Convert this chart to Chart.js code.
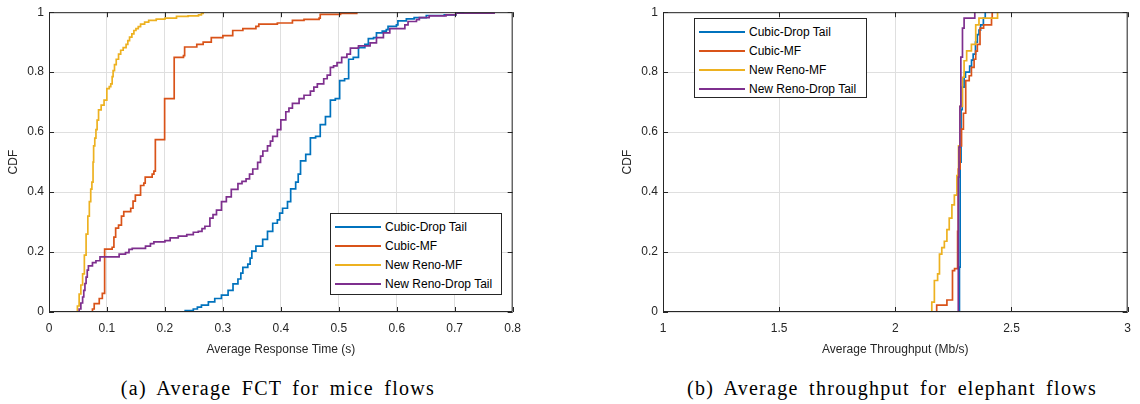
<!DOCTYPE html>
<html>
<head>
<meta charset="utf-8">
<title>CDF of flow completion time and throughput</title>
<script src="https://cdn.jsdelivr.net/npm/chart.js@4.4.1/dist/chart.umd.min.js"></script>
<style>
  body { margin: 0; background: #fff; width: 1140px; height: 404px; position: relative; overflow: hidden; font-family: "Liberation Sans", Arial, sans-serif; }
  canvas { position: absolute; top: 0; }
  #fctChart { left: 0; }
  #tputChart { left: 614px; }
  .legend { position: absolute; background: #fff; border: 1px solid #262626; box-sizing: border-box; padding-top: 3px; font-size: 12px; color: #000; }
  .legend .row { height: 19px; display: flex; align-items: center; white-space: nowrap; }
  .legend .swatch { width: 46px; height: 2px; margin: 0 4px 0 4px; }
  .caption { position: absolute; top: 376px; line-height: 24px; font-family: "Liberation Serif", serif; font-size: 20px; letter-spacing: 1.3px; word-spacing: 4px; transform: translateX(-50%); white-space: nowrap; color: #000; }
</style>
</head>
<body>
<canvas id="fctChart" width="530" height="360"></canvas>
<canvas id="tputChart" width="526" height="360"></canvas>
<div class="legend" id="fctLegend" style="left:330px; top:213px; width:172px; height:82px;"></div>
<div class="legend" id="tputLegend" style="left:694px; top:18px; width:173px; height:80px;"></div>
<div class="caption" style="left:278px;">(a) Average FCT for mice flows</div>
<div class="caption" style="left:892px;">(b) Average throughput for elephant flows</div>

<script>
'use strict';

// series order: Cubic-Drop Tail, Cubic-MF, New Reno-MF, New Reno-Drop Tail
const seriesLabels = ['Cubic-Drop Tail', 'Cubic-MF', 'New Reno-MF', 'New Reno-Drop Tail'];
const seriesColors = ['#0072BD', '#D95319', '#EDB120', '#7E2F8E'];

// tick values
const fctXTicks = [0, 0.1, 0.2, 0.3, 0.4, 0.5, 0.6, 0.7, 0.8];
const tputXTicks = [1, 1.5, 2, 2.5, 3];
const cdfTicks = [0, 0.2, 0.4, 0.6, 0.8, 1];

// mice flows: [response time (s), CDF] at each step
const fctCubicDropTail = [
  [0.232, 0], [0.235, 0.005], [0.249, 0.01], [0.256, 0.016], [0.263, 0.023], [0.275, 0.034],
  [0.286, 0.045], [0.2975, 0.056], [0.309, 0.072], [0.3175, 0.094], [0.326, 0.11], [0.331, 0.13],
  [0.3345, 0.149], [0.343, 0.16], [0.347, 0.18], [0.35, 0.203], [0.357, 0.22], [0.3687, 0.242],
  [0.377, 0.269], [0.386, 0.296], [0.394, 0.307], [0.398, 0.33], [0.403, 0.346], [0.4115, 0.368],
  [0.417, 0.411], [0.4256, 0.433], [0.43, 0.46], [0.434, 0.504], [0.443, 0.526], [0.451, 0.581],
  [0.46, 0.586], [0.468, 0.625], [0.477, 0.652], [0.4855, 0.707], [0.494, 0.712], [0.5015, 0.772],
  [0.51, 0.778], [0.517, 0.843], [0.525, 0.849], [0.534, 0.882], [0.545, 0.893], [0.551, 0.912],
  [0.56, 0.915], [0.565, 0.931], [0.575, 0.937], [0.582, 0.942], [0.585, 0.953], [0.5995, 0.958],
  [0.602, 0.971], [0.6166, 0.978], [0.63, 0.982], [0.651, 0.989], [0.682, 0.991], [0.702, 0.997],
  [0.715, 1]
];
const fctCubicMF = [
  [0.063, 0], [0.075, 0.01], [0.078, 0.028], [0.0867, 0.045], [0.092, 0.062], [0.096, 0.21],
  [0.109, 0.216], [0.112, 0.25], [0.115, 0.28], [0.12, 0.29], [0.125, 0.32], [0.129, 0.335],
  [0.141, 0.346], [0.145, 0.37], [0.149, 0.39], [0.158, 0.422], [0.1636, 0.43], [0.166, 0.45],
  [0.178, 0.46], [0.181, 0.47], [0.1835, 0.575], [0.1995, 0.712], [0.216, 0.849], [0.232, 0.855],
  [0.234, 0.884], [0.255, 0.893], [0.266, 0.9], [0.28, 0.915], [0.3, 0.922], [0.317, 0.939],
  [0.3345, 0.945], [0.357, 0.953], [0.362, 0.96], [0.394, 0.964], [0.42, 0.973], [0.44, 0.976],
  [0.466, 0.98], [0.468, 0.993], [0.503, 0.996], [0.531, 1]
];
const fctRenoMF = [
  [0.04, 0], [0.049, 0.02], [0.052, 0.06], [0.055, 0.09], [0.058, 0.127], [0.061, 0.19],
  [0.064, 0.26], [0.067, 0.32], [0.0696, 0.368], [0.072, 0.41], [0.074, 0.433], [0.076, 0.5],
  [0.077, 0.554], [0.079, 0.58], [0.081, 0.608], [0.083, 0.64], [0.0855, 0.674], [0.09, 0.69],
  [0.095, 0.707], [0.0998, 0.745], [0.104, 0.752], [0.1066, 0.761], [0.109, 0.785], [0.1106, 0.805],
  [0.113, 0.825], [0.116, 0.843], [0.12, 0.86], [0.1237, 0.873], [0.128, 0.882], [0.133, 0.893],
  [0.136, 0.905], [0.139, 0.917], [0.143, 0.928], [0.1465, 0.939], [0.15, 0.945], [0.154, 0.952],
  [0.158, 0.96], [0.165, 0.967], [0.172, 0.973], [0.185, 0.977], [0.2, 0.98], [0.22, 0.986],
  [0.24, 0.988], [0.258, 0.991], [0.263, 0.996], [0.266, 1]
];
const fctRenoDropTail = [
  [0.047, 0], [0.052, 0.01], [0.055, 0.03], [0.058, 0.05], [0.06, 0.072], [0.062, 0.095],
  [0.064, 0.116], [0.066, 0.14], [0.068, 0.154], [0.075, 0.165], [0.081, 0.171], [0.088, 0.184],
  [0.115, 0.184], [0.121, 0.193], [0.132, 0.198], [0.138, 0.209], [0.1436, 0.212], [0.1665, 0.22],
  [0.175, 0.228], [0.181, 0.234], [0.2, 0.238], [0.209, 0.247], [0.223, 0.253], [0.2377, 0.258],
  [0.249, 0.266], [0.2576, 0.269], [0.264, 0.278], [0.269, 0.286], [0.2776, 0.313], [0.283, 0.325],
  [0.289, 0.34], [0.2976, 0.368], [0.306, 0.384], [0.3145, 0.409], [0.326, 0.428], [0.333, 0.436],
  [0.34, 0.444], [0.346, 0.46], [0.3516, 0.477], [0.36, 0.499], [0.365, 0.52], [0.369, 0.537],
  [0.377, 0.554], [0.382, 0.57], [0.386, 0.586], [0.394, 0.608], [0.4, 0.641], [0.4086, 0.668],
  [0.414, 0.68], [0.42, 0.696], [0.4315, 0.712], [0.44, 0.723], [0.451, 0.737], [0.457, 0.75],
  [0.463, 0.761], [0.474, 0.778], [0.48, 0.79], [0.4855, 0.816], [0.491, 0.821], [0.497, 0.832],
  [0.505, 0.849], [0.514, 0.86], [0.52, 0.88], [0.534, 0.888], [0.554, 0.898], [0.565, 0.915],
  [0.577, 0.931], [0.588, 0.945], [0.614, 0.958], [0.6195, 0.969], [0.634, 0.975], [0.639, 0.982],
  [0.656, 0.988], [0.685, 0.991], [0.702, 0.997], [0.768, 1]
];

// elephant flows: [throughput (Mb/s), CDF] at each step
const tputCubicDropTail = [
  [2.273, 0], [2.276, 0.15], [2.279, 0.5], [2.283, 0.675], [2.288, 0.75], [2.296, 0.783],
  [2.302, 0.8], [2.32, 0.82], [2.328, 0.84], [2.335, 0.86], [2.345, 0.9], [2.353, 0.925],
  [2.36, 0.94], [2.367, 0.958], [2.379, 0.98], [2.387, 1]
];
const tputCubicMF = [
  [2.175, 0], [2.178, 0.023], [2.222, 0.04], [2.246, 0.138], [2.255, 0.145], [2.268, 0.269],
  [2.271, 0.477], [2.279, 0.554], [2.285, 0.61], [2.293, 0.663], [2.303, 0.772], [2.318, 0.788],
  [2.3275, 0.816], [2.339, 0.843], [2.346, 0.87], [2.353, 0.893], [2.3645, 0.947], [2.38, 0.958],
  [2.414, 0.98], [2.417, 1]
];
const tputRenoMF = [
  [2.154, 0], [2.157, 0.033], [2.168, 0.105], [2.182, 0.127], [2.19, 0.193], [2.2, 0.215],
  [2.211, 0.236], [2.222, 0.275], [2.232, 0.313], [2.2435, 0.357], [2.254, 0.39], [2.265, 0.455],
  [2.272, 0.554], [2.279, 0.686], [2.289, 0.783], [2.296, 0.838], [2.307, 0.871], [2.3275, 0.893],
  [2.346, 0.958], [2.36, 0.98], [2.44, 1]
];
const tputRenoDropTail = [
  [2.268, 0], [2.271, 0.45], [2.274, 0.55], [2.278, 0.686], [2.282, 0.85], [2.289, 0.947],
  [2.296, 0.98], [2.342, 1]
];

const axisFont = { family: '"Liberation Sans", Arial, sans-serif', size: 12 };
const axisColor = '#262626';

// box around the plot with inward tick marks on all four sides
const axesBox = {
  id: 'axesBox',
  afterDatasetsDraw(chart) {
    const ctx = chart.ctx;
    const a = chart.chartArea;
    const x = chart.scales.x;
    const y = chart.scales.y;
    const len = 5;
    ctx.save();
    ctx.strokeStyle = axisColor;
    ctx.lineWidth = 1;
    ctx.beginPath();
    ctx.rect(a.left + 0.5, a.top + 0.5, a.right - a.left - 1, a.bottom - a.top - 1);
    x.ticks.forEach(function(t) {
      const px = Math.round(x.getPixelForValue(t.value)) + 0.5;
      ctx.moveTo(px, a.bottom); ctx.lineTo(px, a.bottom - len);
      ctx.moveTo(px, a.top); ctx.lineTo(px, a.top + len);
    });
    y.ticks.forEach(function(t) {
      const py = Math.round(y.getPixelForValue(t.value)) + 0.5;
      ctx.moveTo(a.left, py); ctx.lineTo(a.left + len, py);
      ctx.moveTo(a.right, py); ctx.lineTo(a.right - len, py);
    });
    ctx.stroke();
    ctx.restore();
  }
};

function makeDatasets(series) {
  return series.map(function(pairs, i) {
    return {
      label: seriesLabels[i],
      data: pairs.map(function(p) { return { x: p[0], y: p[1] }; }),
      borderColor: seriesColors[i],
      backgroundColor: seriesColors[i],
      borderWidth: 1.7,
      pointRadius: 0,
      stepped: 'before',
      fill: false,
      order: series.length - 1 - i
    };
  });
}

function fixedTicks(values) {
  return function(scale) {
    scale.ticks = values.map(function(v) { return { value: v }; });
  };
}

function plainLabel(value) {
  return String(value);
}

function makeOptions(xTicks, xTitle, rightPad) {
  return {
    responsive: false,
    animation: false,
    events: [],
    layout: { padding: { top: 7, right: rightPad, bottom: 3, left: 0 } },
    plugins: { legend: { display: false }, tooltip: { enabled: false } },
    scales: {
      x: {
        type: 'linear',
        min: xTicks[0],
        max: xTicks[xTicks.length - 1],
        afterBuildTicks: fixedTicks(xTicks),
        afterFit: function(s) { s.height = 45; },
        grid: { color: '#dfdfdf', drawTicks: false },
        border: { display: false },
        ticks: { padding: 9, color: axisColor, font: axisFont, maxRotation: 0, autoSkip: false, callback: plainLabel },
        title: { display: true, text: xTitle, color: axisColor, font: axisFont, padding: { top: 0, bottom: 0 } }
      },
      y: {
        type: 'linear',
        min: cdfTicks[0],
        max: cdfTicks[cdfTicks.length - 1],
        afterBuildTicks: fixedTicks(cdfTicks),
        afterFit: function(s) { s.width = 49; },
        grid: { color: '#dfdfdf', drawTicks: false },
        border: { display: false },
        ticks: { padding: 5, color: axisColor, font: axisFont, autoSkip: false, callback: plainLabel },
        title: { display: true, text: 'CDF', color: axisColor, font: axisFont, padding: { top: 6, bottom: 0 } }
      }
    }
  };
}

function fillLegend(id) {
  const box = document.getElementById(id);
  seriesLabels.forEach(function(label, i) {
    const row = document.createElement('div');
    row.className = 'row';
    const swatch = document.createElement('span');
    swatch.className = 'swatch';
    swatch.style.background = seriesColors[i];
    const text = document.createElement('span');
    text.textContent = label;
    row.appendChild(swatch);
    row.appendChild(text);
    box.appendChild(row);
  });
}

// CHARTS //
new Chart(document.getElementById('fctChart'), {
  type: 'line',
  data: { datasets: makeDatasets([fctCubicDropTail, fctCubicMF, fctRenoMF, fctRenoDropTail]) },
  options: makeOptions(fctXTicks, 'Average Response Time (s)', 13),
  plugins: [axesBox]
});

new Chart(document.getElementById('tputChart'), {
  type: 'line',
  data: { datasets: makeDatasets([tputCubicDropTail, tputCubicMF, tputRenoMF, tputRenoDropTail]) },
  options: makeOptions(tputXTicks, 'Average Throughput (Mb/s)', 8),
  plugins: [axesBox]
});

fillLegend('fctLegend');
fillLegend('tputLegend');
</script>
</body>
</html>
